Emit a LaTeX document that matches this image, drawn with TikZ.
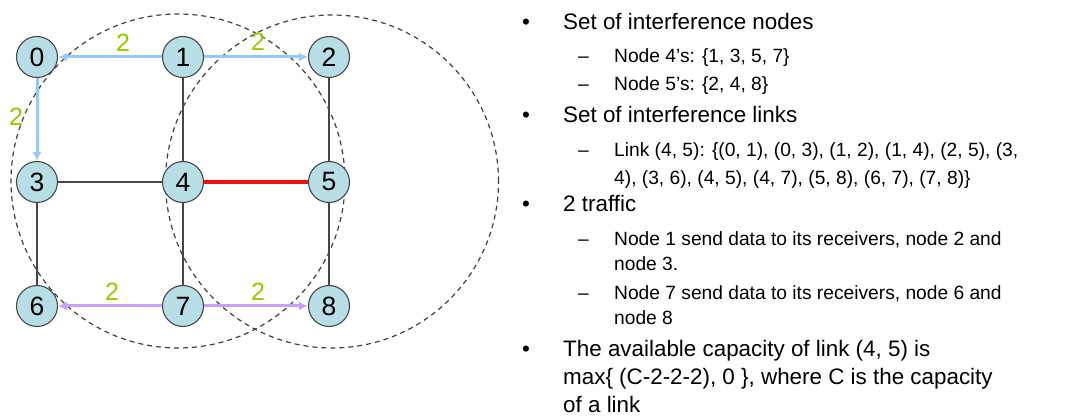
\documentclass[tikz,border=0pt]{standalone}
\usepackage{fontspec}
\setmainfont{Liberation Sans}
\usetikzlibrary{arrows.meta}
\definecolor{nodefill}{RGB}{183,222,228}
\definecolor{edgegray}{RGB}{70,70,70}
\definecolor{bluearr}{RGB}{150,200,250}
\definecolor{purparr}{RGB}{200,160,250}
\definecolor{lblgreen}{RGB}{150,200,0}
\definecolor{linkred}{RGB}{235,20,20}
\tikzset{
  gnode/.style={circle,draw=edgegray,line width=1.1pt,fill=nodefill,minimum size=41pt,inner sep=0pt,font=\fontsize{26.5}{26.5}\selectfont},
  gedge/.style={draw=edgegray,line width=1.4pt},
  redlink/.style={draw=linkred,line width=3.5pt},
  barrow/.style={draw=bluearr,line width=3pt,-{Latex[length=9pt,width=9pt]}},
  parrow/.style={draw=purparr,line width=3pt,-{Latex[length=9pt,width=9pt]}},
  lbl/.style={text=lblgreen,font=\fontsize{25}{25}\selectfont,inner sep=0pt},
  rangecirc/.style={draw=black!75,dash pattern=on 5pt off 4pt,line width=1.2pt},
  main/.style={anchor=base west,inner sep=0pt,font=\fontsize{22.4}{27}\selectfont},
  sub/.style={anchor=base west,inner sep=0pt,font=\fontsize{19.2}{23}\selectfont},
  bul/.style={anchor=base,inner sep=0pt,font=\fontsize{22.4}{27}\selectfont},
}
\begin{document}
\begin{tikzpicture}[x=1pt,y=-1pt]
\useasboundingbox (0,0) rectangle (1066,419);
% range circles
\draw[rangecirc] (178,181) circle [radius=167pt];
\draw[rangecirc] (332,181.5) circle [radius=166.5pt];
% nodes
\node[gnode] (n0) at (37,57) {0};
\node[gnode] (n1) at (183,57) {1};
\node[gnode] (n2) at (329,57) {2};
\node[gnode] (n3) at (37,182) {3};
\node[gnode] (n4) at (183,182) {4};
\node[gnode] (n5) at (329,182) {5};
\node[gnode] (n6) at (37,306) {6};
\node[gnode] (n7) at (183,306) {7};
\node[gnode] (n8) at (329,306) {8};
% plain edges
\draw[gedge] (n1) -- (n4);
\draw[gedge] (n2) -- (n5);
\draw[gedge] (n3) -- (n4);
\draw[gedge] (n3) -- (n6);
\draw[gedge] (n4) -- (n7);
\draw[gedge] (n5) -- (n8);
\draw[redlink] (n4) -- (n5);
% traffic arrows
\draw[barrow] (n1) -- (n0);
\draw[barrow] (n1) -- (n2);
\draw[barrow] (n0) -- (n3);
\draw[parrow] (n7) -- (n6);
\draw[parrow] (n7) -- (n8);
% labels
\node[lbl] (l01) at (123,43) {2};
\node[lbl] (l12) at (258,42) {2};
\node[lbl] (l03) at (16,117) {2};
\node[lbl] (l76) at (112,292) {2};
\node[lbl] (l78) at (258,292) {2};
% text
\node[bul] (b1) at (526,30) {•};
\node[main] (t1) at (563,30) {Set of interference nodes};
\node[sub] (d1) at (578,63) {–};
\node[sub] (s1) at (614,63) {Node 4’s: \{1, 3, 5, 7\}};
\node[sub] (d2) at (578,91) {–};
\node[sub] (s2) at (614,91) {Node 5’s: \{2, 4, 8\}};
\node[bul] (b2) at (526,123) {•};
\node[main] (t2) at (563,123) {Set of interference links};
\node[sub] (d3) at (578,157) {–};
\node[sub] (s3a) at (614,157) {Link (4, 5): \{(0, 1), (0, 3), (1, 2), (1, 4), (2, 5), (3,};
\node[sub] (s3b) at (614,185) {4), (3, 6), (4, 5), (4, 7), (5, 8), (6, 7), (7, 8)\}};
\node[bul] (b3) at (526,212) {•};
\node[main] (t3) at (563,212) {2 traffic};
\node[sub] (d4) at (578,246) {–};
\node[sub] (s4a) at (614,246) {Node 1 send data to its receivers, node 2 and};
\node[sub] (s4b) at (614,271) {node 3.};
\node[sub] (d5) at (578,300) {–};
\node[sub] (s5a) at (614,300) {Node 7 send data to its receivers, node 6 and};
\node[sub] (s5b) at (614,325) {node 8};
\node[bul] (b4) at (526,357) {•};
\node[main] (t4a) at (563,357) {The available capacity of link (4, 5) is};
\node[main] (t4b) at (563,385) {max\{ (C-2-2-2), 0 \}, where C is the capacity};
\node[main] (t4c) at (563,413) {of a link};
\end{tikzpicture}
\end{document}
